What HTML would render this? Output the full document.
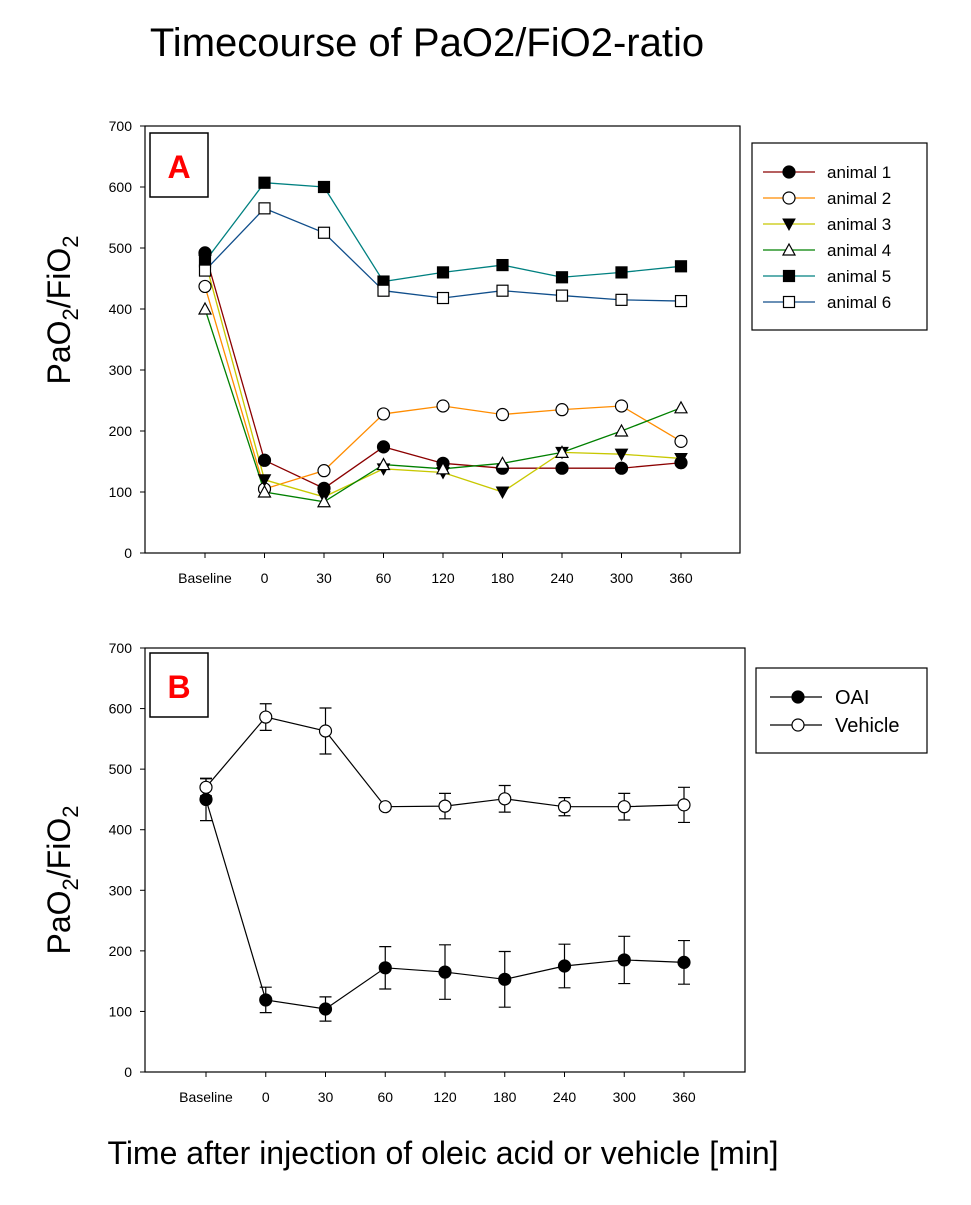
<!DOCTYPE html>
<html><head><meta charset="utf-8"><style>
body{margin:0;background:#fff;}
svg text{font-family:"Liberation Sans",sans-serif;}
</style></head><body>
<svg id="chart" width="971" height="1200" xmlns="http://www.w3.org/2000/svg">
<text x="427" y="56" font-size="40" text-anchor="middle">Timecourse of PaO2/FiO2-ratio</text>
<text x="443" y="1164" font-size="32" text-anchor="middle">Time after injection of oleic acid or vehicle [min]</text>
<g id="pa"></g>
<g id="pb"></g>
</svg>
<script>
const categories=["Baseline","0","30","60","120","180","240","300","360"];
const yTicks=[0,100,200,300,400,500,600,700];
const animalNames=["animal 1","animal 2","animal 3","animal 4","animal 5","animal 6"];
const animal1=[492,152,106,174,147,139,139,139,148];
const animal2=[437,105,135,228,241,227,235,241,183];
const animal3=[480,120,92,138,132,100,165,162,155];
const animal4=[400,100,84,145,138,147,165,200,238];
const animal5=[478,607,600,445,460,472,452,460,470];
const animal6=[463,565,525,430,418,430,422,415,413];
const oaiMean=[450,119,104,172,165,153,175,185,181];
const oaiErr=[35,21,20,35,45,46,36,39,36];
const vehMean=[470,586,563,438,439,451,438,438,441];
const vehErr=[14,22,38,2,21,22,15,22,29];
const groupNames=["OAI","Vehicle"];

const NS="http://www.w3.org/2000/svg";
function mk(p,t,a){const e=document.createElementNS(NS,t);for(const k in a)e.setAttribute(k,a[k]);p.appendChild(e);return e;}
function marker(g,type,x,y){
  let e;
  if(type==="fc"||type==="oc") e=mk(g,"circle",{cx:x,cy:y,r:6,fill:type==="fc"?"#000":"#fff",stroke:"#000","stroke-width":1.2});
  else if(type==="fs"||type==="os") e=mk(g,"rect",{x:x-5.5,y:y-5.5,width:11,height:11,fill:type==="fs"?"#000":"#fff",stroke:"#000","stroke-width":1.2});
  else if(type==="dt") e=mk(g,"polygon",{points:`${x-6},${y-5} ${x+6},${y-5} ${x},${y+6}`,fill:"#000",stroke:"#000"});
  else e=mk(g,"polygon",{points:`${x-6},${y+5} ${x+6},${y+5} ${x},${y-6}`,fill:"#fff",stroke:"#000","stroke-width":1.2});
  
  
  return e;
}
function axes(g,L,R,T,B,x0,step,letter,lb,ylabY){
  const y=v=>B-(B-T)*v/700, x=i=>x0+i*step;
  const fr=mk(g,"rect",{x:L,y:T,width:R-L,height:B-T,fill:"none",stroke:"#000","stroke-width":1.2});
  
  
  yTicks.forEach(v=>{
    mk(g,"line",{x1:L-5,x2:L,y1:y(v),y2:y(v),stroke:"#000"});
    const t=mk(g,"text",{x:L-13,y:y(v)+5,"font-size":14,"text-anchor":"end"});t.textContent=v;
    
    
  });
  categories.forEach((c,i)=>{
    mk(g,"line",{x1:x(i),x2:x(i),y1:B,y2:B+5,stroke:"#000"});
    const t=mk(g,"text",{x:x(i),y:B+30,"font-size":14,"text-anchor":"middle"});t.textContent=c;
    
    
  });
  const bx=mk(g,"rect",{x:lb[0],y:lb[1],width:58,height:64,fill:"#fff",stroke:"#000","stroke-width":1.5});
  
  
  const lt=mk(g,"text",{x:lb[0]+29,y:lb[1]+45,"font-size":32,"font-weight":"bold",fill:"#f00","text-anchor":"middle"});lt.textContent=letter;
  
  
  const yl=mk(g,"text",{transform:`translate(70,${ylabY}) rotate(-90)`,"font-size":32,"text-anchor":"middle"});
  yl.innerHTML='PaO<tspan font-size="22" dy="8">2</tspan><tspan dy="-8">/FiO</tspan><tspan font-size="22" dy="8">2</tspan>';
  
  
  return {x,y};
}
// Panel A
const ga=document.getElementById("pa");
const A=axes(ga,145,740,126,553,205,59.5,"A",[150,133],310);
const aSeries=[animal1,animal2,animal3,animal4,animal5,animal6];
const aColors=["#8b0000","#ff8c00","#c8c800","#008000","#008080","#104e8b"];
const aMarkers=["fc","oc","dt","ut","fs","os"];
aSeries.forEach((s,k)=>{
  const pl=mk(ga,"polyline",{points:s.map((v,i)=>A.x(i)+","+A.y(v)).join(" "),fill:"none",stroke:aColors[k],"stroke-width":1.3});
  
  
});
aSeries.forEach((s,k)=>s.forEach((v,i)=>marker(ga,aMarkers[k],A.x(i),A.y(v))));
const lga=mk(ga,"rect",{x:752,y:143,width:175,height:187,fill:"#fff",stroke:"#000","stroke-width":1.2});


animalNames.forEach((n,k)=>{
  const yy=172+k*26;
  mk(ga,"line",{x1:763,x2:815,y1:yy,y2:yy,stroke:aColors[k],"stroke-width":1.3});
  marker(ga,aMarkers[k],789,yy);
  const t=mk(ga,"text",{x:827,y:yy+6,"font-size":17});t.textContent=n;
  
  
});
// Panel B
const gb=document.getElementById("pb");
const B=axes(gb,145,745,648,1072,206,59.75,"B",[150,653],880);
[[vehMean,vehErr,"oc"],[oaiMean,oaiErr,"fc"]].forEach(([m,e,mt],k)=>{
  const pl=mk(gb,"polyline",{points:m.map((v,i)=>B.x(i)+","+B.y(v)).join(" "),fill:"none",stroke:"#000","stroke-width":1.2});
  
  
  m.forEach((v,i)=>{
    const x=B.x(i),y1=B.y(v+e[i]),y2=B.y(v-e[i]);
    const eb=mk(gb,"path",{d:`M${x},${y1}V${y2}M${x-6},${y1}H${x+6}M${x-6},${y2}H${x+6}`,stroke:"#000","stroke-width":1.2,fill:"none"});
    
    
  });
});
[[vehMean,"oc"],[oaiMean,"fc"]].forEach(([m,mt])=>m.forEach((v,i)=>marker(gb,mt,B.x(i),B.y(v))));
const lgb=mk(gb,"rect",{x:756,y:668,width:171,height:85,fill:"#fff",stroke:"#000","stroke-width":1.2});


groupNames.forEach((n,k)=>{
  const yy=697+k*28;
  mk(gb,"line",{x1:770,x2:822,y1:yy,y2:yy,stroke:"#000","stroke-width":1.2});
  marker(gb,k?"oc":"fc",798,yy);
  const t=mk(gb,"text",{x:835,y:yy+7,"font-size":20});t.textContent=n;
  
  
});
</script>
</body></html>
